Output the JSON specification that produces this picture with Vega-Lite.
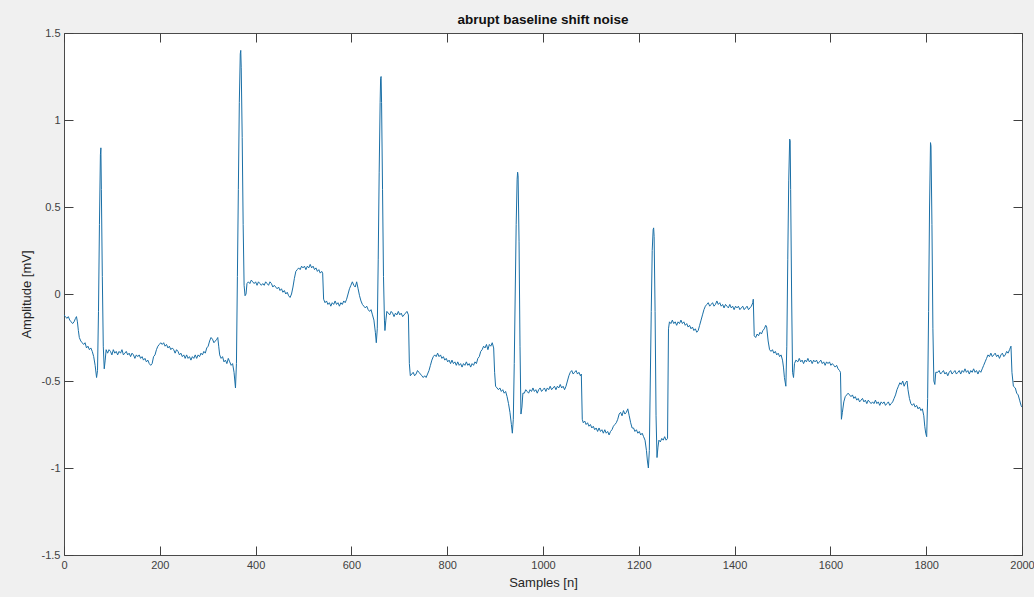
{
  "$schema": "https://vega.github.io/schema/vega-lite/v6.json",
  "width": 958,
  "height": 522,
  "autosize": {"type": "none"},
  "padding": {"left": 64, "top": 33, "right": 12, "bottom": 42},
  "background": "#f0f0f0",
  "config": {
    "font": "Liberation Sans",
    "view": {"fill": "white", "stroke": "#4a4a4a", "strokeWidth": 1},
    "axis": {"grid": false, "domain": false, "tickColor": "#404040", "tickSize": -9, "labelFont": "Liberation Sans", "labelFontSize": 11, "labelColor": "#404040", "titleFont": "Liberation Sans", "titleFontSize": 13, "titleFontWeight": "normal", "titleColor": "#262626"},
    "title": {"font": "Liberation Sans", "fontSize": 13.5, "fontWeight": "bold", "color": "#111111"}
  },
  "title": {"text": "abrupt baseline shift noise", "anchor": "middle", "offset": 1},
  "data": {"values": [
    {"n":0,"v":-0.12},{"n":3,"v":-0.13},{"n":6,"v":-0.14},{"n":9,"v":-0.13},{"n":12,"v":-0.15},{"n":15,"v":-0.16},{"n":18,"v":-0.17},{"n":21,"v":-0.16},{"n":24,"v":-0.14},{"n":26,"v":-0.13},{"n":28,"v":-0.16},{"n":30,"v":-0.21},{"n":32,"v":-0.25},{"n":35,"v":-0.27},{"n":38,"v":-0.28},{"n":41,"v":-0.29},{"n":44,"v":-0.28},{"n":47,"v":-0.31},{"n":50,"v":-0.30},{"n":53,"v":-0.32},{"n":56,"v":-0.31},{"n":59,"v":-0.33},{"n":62,"v":-0.36},{"n":65,"v":-0.41},{"n":68,"v":-0.48},{"n":70,"v":-0.44},{"n":72,"v":-0.10},{"n":74,"v":0.40},{"n":76,"v":0.80},{"n":77,"v":0.84},{"n":78,"v":0.60},{"n":80,"v":0.10},{"n":82,"v":-0.30},{"n":84,"v":-0.43},{"n":86,"v":-0.38},{"n":88,"v":-0.32},
    {"n":91,"v":-0.34},{"n":94,"v":-0.32},{"n":97,"v":-0.33},{"n":100,"v":-0.35},{"n":103,"v":-0.32},{"n":106,"v":-0.34},{"n":109,"v":-0.33},{"n":112,"v":-0.35},{"n":115,"v":-0.33},{"n":118,"v":-0.34},{"n":121,"v":-0.32},{"n":124,"v":-0.35},{"n":127,"v":-0.34},{"n":130,"v":-0.33},{"n":133,"v":-0.35},{"n":136,"v":-0.34},{"n":139,"v":-0.36},{"n":142,"v":-0.34},{"n":145,"v":-0.35},{"n":148,"v":-0.37},{"n":151,"v":-0.35},{"n":154,"v":-0.36},{"n":157,"v":-0.35},{"n":160,"v":-0.37},{"n":163,"v":-0.36},{"n":166,"v":-0.38},{"n":169,"v":-0.37},{"n":172,"v":-0.39},{"n":175,"v":-0.38},{"n":178,"v":-0.40},{"n":181,"v":-0.41},{"n":184,"v":-0.40},{"n":187,"v":-0.36},{"n":190,"v":-0.35},{"n":193,"v":-0.32},{"n":196,"v":-0.30},{"n":199,"v":-0.29},{"n":202,"v":-0.28},{"n":205,"v":-0.29},{"n":208,"v":-0.28},{"n":211,"v":-0.30},{"n":214,"v":-0.29},{"n":217,"v":-0.31},{"n":220,"v":-0.30},{"n":223,"v":-0.32},{"n":226,"v":-0.31},{"n":229,"v":-0.32},{"n":232,"v":-0.34},{"n":235,"v":-0.32},{"n":238,"v":-0.33},{"n":241,"v":-0.35},{"n":244,"v":-0.34},{"n":247,"v":-0.36},{"n":250,"v":-0.35},{"n":253,"v":-0.37},{"n":256,"v":-0.35},{"n":259,"v":-0.37},{"n":262,"v":-0.36},{"n":265,"v":-0.38},{"n":268,"v":-0.36},{"n":271,"v":-0.37},{"n":274,"v":-0.35},{"n":277,"v":-0.37},{"n":280,"v":-0.35},{"n":283,"v":-0.36},{"n":286,"v":-0.34},{"n":289,"v":-0.35},{"n":292,"v":-0.33},{"n":295,"v":-0.34},{"n":298,"v":-0.31},{"n":301,"v":-0.30},{"n":304,"v":-0.27},{"n":307,"v":-0.25},{"n":310,"v":-0.26},{"n":313,"v":-0.28},{"n":316,"v":-0.27},{"n":319,"v":-0.26},{"n":321,"v":-0.25},{"n":323,"v":-0.30},{"n":325,"v":-0.35},{"n":328,"v":-0.37},{"n":331,"v":-0.36},{"n":334,"v":-0.39},{"n":337,"v":-0.38},{"n":340,"v":-0.40},{"n":343,"v":-0.37},{"n":346,"v":-0.39},{"n":349,"v":-0.41},{"n":352,"v":-0.40},{"n":355,"v":-0.45},{"n":358,"v":-0.54},{"n":360,"v":-0.40},{"n":362,"v":0.10},{"n":364,"v":0.60},{"n":366,"v":1.10},{"n":368,"v":1.38},{"n":369,"v":1.40},{"n":370,"v":1.30},{"n":372,"v":0.90},{"n":374,"v":0.40},{"n":376,"v":0.05},{"n":378,"v":-0.01},{"n":380,"v":0.00},{"n":382,"v":0.06},
    {"n":385,"v":0.07},{"n":388,"v":0.06},{"n":391,"v":0.08},{"n":394,"v":0.07},{"n":397,"v":0.06},{"n":400,"v":0.07},{"n":403,"v":0.05},{"n":406,"v":0.07},{"n":409,"v":0.06},{"n":412,"v":0.05},{"n":415,"v":0.06},{"n":418,"v":0.05},{"n":421,"v":0.07},{"n":424,"v":0.06},{"n":427,"v":0.05},{"n":430,"v":0.07},{"n":433,"v":0.06},{"n":436,"v":0.04},{"n":439,"v":0.05},{"n":442,"v":0.04},{"n":445,"v":0.03},{"n":448,"v":0.04},{"n":451,"v":0.02},{"n":454,"v":0.03},{"n":457,"v":0.01},{"n":460,"v":0.02},{"n":463,"v":0.00},{"n":466,"v":0.01},{"n":469,"v":-0.01},{"n":472,"v":-0.02},{"n":475,"v":0.00},{"n":478,"v":0.04},{"n":481,"v":0.09},{"n":484,"v":0.13},{"n":487,"v":0.14},{"n":490,"v":0.15},{"n":493,"v":0.14},{"n":496,"v":0.16},{"n":499,"v":0.15},{"n":502,"v":0.16},{"n":505,"v":0.14},{"n":508,"v":0.16},{"n":511,"v":0.15},{"n":514,"v":0.17},{"n":517,"v":0.15},{"n":520,"v":0.16},{"n":523,"v":0.14},{"n":526,"v":0.15},{"n":529,"v":0.13},{"n":532,"v":0.14},{"n":535,"v":0.12},{"n":538,"v":0.13},{"n":540,"v":0.12},{"n":542,"v":-0.03},{"n":545,"v":-0.05},{"n":548,"v":-0.04},{"n":551,"v":-0.06},{"n":554,"v":-0.05},{"n":557,"v":-0.07},{"n":560,"v":-0.05},{"n":563,"v":-0.06},{"n":566,"v":-0.04},{"n":569,"v":-0.06},{"n":572,"v":-0.05},{"n":575,"v":-0.07},{"n":578,"v":-0.05},{"n":581,"v":-0.06},{"n":584,"v":-0.04},{"n":587,"v":-0.05},{"n":590,"v":-0.03},{"n":593,"v":0.00},{"n":596,"v":0.03},{"n":599,"v":0.05},{"n":602,"v":0.07},{"n":605,"v":0.05},{"n":608,"v":0.04},{"n":611,"v":0.07},{"n":614,"v":0.03},{"n":617,"v":-0.01},{"n":620,"v":-0.04},{"n":623,"v":-0.06},{"n":626,"v":-0.07},{"n":629,"v":-0.08},{"n":632,"v":-0.07},{"n":635,"v":-0.09},{"n":638,"v":-0.10},{"n":641,"v":-0.09},{"n":644,"v":-0.12},{"n":647,"v":-0.15},{"n":650,"v":-0.22},{"n":652,"v":-0.28},{"n":654,"v":-0.20},{"n":656,"v":0.20},{"n":658,"v":0.70},{"n":660,"v":1.10},{"n":661,"v":1.24},{"n":662,"v":1.25},{"n":663,"v":1.10},{"n":665,"v":0.60},{"n":667,"v":0.10},{"n":669,"v":-0.15},{"n":670,"v":-0.21},{"n":672,"v":-0.15},{"n":674,"v":-0.10},
    {"n":677,"v":-0.11},{"n":680,"v":-0.12},{"n":683,"v":-0.10},{"n":686,"v":-0.11},{"n":689,"v":-0.13},{"n":692,"v":-0.11},{"n":695,"v":-0.12},{"n":698,"v":-0.10},{"n":701,"v":-0.12},{"n":704,"v":-0.11},{"n":707,"v":-0.13},{"n":710,"v":-0.12},{"n":713,"v":-0.11},{"n":716,"v":-0.10},{"n":719,"v":-0.12},{"n":721,"v":-0.40},{"n":723,"v":-0.47},{"n":726,"v":-0.46},{"n":729,"v":-0.45},{"n":732,"v":-0.47},{"n":735,"v":-0.46},{"n":738,"v":-0.44},{"n":741,"v":-0.45},{"n":744,"v":-0.46},{"n":747,"v":-0.47},{"n":750,"v":-0.48},{"n":753,"v":-0.47},{"n":756,"v":-0.48},{"n":759,"v":-0.46},{"n":762,"v":-0.44},{"n":765,"v":-0.41},{"n":768,"v":-0.38},{"n":771,"v":-0.36},{"n":774,"v":-0.35},{"n":777,"v":-0.36},{"n":780,"v":-0.34},{"n":783,"v":-0.36},{"n":786,"v":-0.35},{"n":789,"v":-0.37},{"n":792,"v":-0.36},{"n":795,"v":-0.38},{"n":798,"v":-0.37},{"n":801,"v":-0.39},{"n":804,"v":-0.38},{"n":807,"v":-0.40},{"n":810,"v":-0.38},{"n":813,"v":-0.40},{"n":816,"v":-0.39},{"n":819,"v":-0.41},{"n":822,"v":-0.39},{"n":825,"v":-0.41},{"n":828,"v":-0.40},{"n":831,"v":-0.42},{"n":834,"v":-0.40},{"n":837,"v":-0.41},{"n":840,"v":-0.39},{"n":843,"v":-0.41},{"n":846,"v":-0.40},{"n":849,"v":-0.42},{"n":852,"v":-0.40},{"n":855,"v":-0.41},{"n":858,"v":-0.39},{"n":861,"v":-0.40},{"n":864,"v":-0.37},{"n":867,"v":-0.36},{"n":870,"v":-0.33},{"n":873,"v":-0.32},{"n":876,"v":-0.30},{"n":879,"v":-0.31},{"n":882,"v":-0.29},{"n":885,"v":-0.32},{"n":888,"v":-0.29},{"n":891,"v":-0.30},{"n":894,"v":-0.28},{"n":897,"v":-0.31},{"n":899,"v":-0.45},{"n":901,"v":-0.53},{"n":904,"v":-0.54},{"n":907,"v":-0.55},{"n":910,"v":-0.54},{"n":913,"v":-0.56},{"n":916,"v":-0.55},{"n":919,"v":-0.57},{"n":922,"v":-0.56},{"n":925,"v":-0.59},{"n":928,"v":-0.63},{"n":931,"v":-0.68},{"n":934,"v":-0.75},{"n":936,"v":-0.80},{"n":938,"v":-0.72},{"n":940,"v":-0.40},{"n":942,"v":0.00},{"n":944,"v":0.40},{"n":946,"v":0.66},{"n":947,"v":0.70},{"n":948,"v":0.68},{"n":950,"v":0.30},{"n":952,"v":-0.30},{"n":954,"v":-0.69},{"n":956,"v":-0.65},{"n":958,"v":-0.57},
    {"n":961,"v":-0.57},{"n":964,"v":-0.55},{"n":967,"v":-0.56},{"n":970,"v":-0.57},{"n":973,"v":-0.55},{"n":976,"v":-0.56},{"n":979,"v":-0.54},{"n":982,"v":-0.56},{"n":985,"v":-0.55},{"n":988,"v":-0.57},{"n":991,"v":-0.55},{"n":994,"v":-0.54},{"n":997,"v":-0.56},{"n":1000,"v":-0.55},{"n":1003,"v":-0.54},{"n":1006,"v":-0.56},{"n":1009,"v":-0.54},{"n":1012,"v":-0.55},{"n":1015,"v":-0.53},{"n":1018,"v":-0.55},{"n":1021,"v":-0.54},{"n":1024,"v":-0.53},{"n":1027,"v":-0.55},{"n":1030,"v":-0.53},{"n":1033,"v":-0.54},{"n":1036,"v":-0.52},{"n":1039,"v":-0.54},{"n":1042,"v":-0.53},{"n":1045,"v":-0.55},{"n":1048,"v":-0.53},{"n":1051,"v":-0.50},{"n":1054,"v":-0.47},{"n":1057,"v":-0.45},{"n":1060,"v":-0.44},{"n":1063,"v":-0.46},{"n":1066,"v":-0.45},{"n":1069,"v":-0.44},{"n":1072,"v":-0.46},{"n":1075,"v":-0.45},{"n":1078,"v":-0.47},{"n":1080,"v":-0.46},{"n":1082,"v":-0.72},{"n":1084,"v":-0.74},{"n":1087,"v":-0.73},{"n":1090,"v":-0.75},{"n":1093,"v":-0.74},{"n":1096,"v":-0.76},{"n":1099,"v":-0.75},{"n":1102,"v":-0.77},{"n":1105,"v":-0.76},{"n":1108,"v":-0.78},{"n":1111,"v":-0.77},{"n":1114,"v":-0.79},{"n":1117,"v":-0.77},{"n":1120,"v":-0.79},{"n":1123,"v":-0.78},{"n":1126,"v":-0.80},{"n":1129,"v":-0.78},{"n":1132,"v":-0.80},{"n":1135,"v":-0.79},{"n":1138,"v":-0.81},{"n":1141,"v":-0.79},{"n":1144,"v":-0.78},{"n":1147,"v":-0.76},{"n":1150,"v":-0.75},{"n":1153,"v":-0.74},{"n":1156,"v":-0.72},{"n":1159,"v":-0.69},{"n":1162,"v":-0.68},{"n":1165,"v":-0.70},{"n":1168,"v":-0.67},{"n":1171,"v":-0.69},{"n":1174,"v":-0.68},{"n":1177,"v":-0.66},{"n":1180,"v":-0.70},{"n":1183,"v":-0.74},{"n":1186,"v":-0.77},{"n":1189,"v":-0.77},{"n":1192,"v":-0.79},{"n":1195,"v":-0.78},{"n":1198,"v":-0.80},{"n":1201,"v":-0.79},{"n":1204,"v":-0.81},{"n":1207,"v":-0.80},{"n":1210,"v":-0.82},{"n":1213,"v":-0.84},{"n":1216,"v":-0.90},{"n":1218,"v":-0.96},{"n":1220,"v":-1.00},{"n":1222,"v":-0.90},{"n":1224,"v":-0.50},{"n":1226,"v":-0.10},{"n":1228,"v":0.25},{"n":1230,"v":0.37},{"n":1231,"v":0.38},{"n":1232,"v":0.33},{"n":1234,"v":-0.10},{"n":1236,"v":-0.70},{"n":1238,"v":-0.94},{"n":1240,"v":-0.88},{"n":1242,"v":-0.84},{"n":1245,"v":-0.85},{"n":1248,"v":-0.83},{"n":1251,"v":-0.84},{"n":1254,"v":-0.82},{"n":1257,"v":-0.84},{"n":1260,"v":-0.83},{"n":1262,"v":-0.20},{"n":1264,"v":-0.16},{"n":1267,"v":-0.17},
    {"n":1270,"v":-0.15},{"n":1273,"v":-0.17},{"n":1276,"v":-0.16},{"n":1279,"v":-0.18},{"n":1282,"v":-0.16},{"n":1285,"v":-0.17},{"n":1288,"v":-0.15},{"n":1291,"v":-0.17},{"n":1294,"v":-0.16},{"n":1297,"v":-0.18},{"n":1300,"v":-0.17},{"n":1303,"v":-0.19},{"n":1306,"v":-0.18},{"n":1309,"v":-0.20},{"n":1312,"v":-0.19},{"n":1315,"v":-0.21},{"n":1318,"v":-0.20},{"n":1321,"v":-0.22},{"n":1324,"v":-0.21},{"n":1327,"v":-0.18},{"n":1330,"v":-0.15},{"n":1333,"v":-0.12},{"n":1336,"v":-0.09},{"n":1339,"v":-0.07},{"n":1342,"v":-0.06},{"n":1345,"v":-0.05},{"n":1348,"v":-0.07},{"n":1351,"v":-0.06},{"n":1354,"v":-0.05},{"n":1357,"v":-0.07},{"n":1360,"v":-0.06},{"n":1363,"v":-0.04},{"n":1366,"v":-0.06},{"n":1369,"v":-0.05},{"n":1372,"v":-0.07},{"n":1375,"v":-0.06},{"n":1378,"v":-0.08},{"n":1381,"v":-0.06},{"n":1384,"v":-0.07},{"n":1387,"v":-0.08},{"n":1390,"v":-0.06},{"n":1393,"v":-0.08},{"n":1396,"v":-0.07},{"n":1399,"v":-0.09},{"n":1402,"v":-0.07},{"n":1405,"v":-0.08},{"n":1408,"v":-0.07},{"n":1411,"v":-0.09},{"n":1414,"v":-0.08},{"n":1417,"v":-0.07},{"n":1420,"v":-0.09},{"n":1423,"v":-0.08},{"n":1426,"v":-0.07},{"n":1429,"v":-0.09},{"n":1432,"v":-0.08},{"n":1435,"v":-0.07},{"n":1438,"v":-0.05},{"n":1439,"v":-0.03},{"n":1441,"v":-0.24},{"n":1444,"v":-0.25},{"n":1447,"v":-0.23},{"n":1450,"v":-0.24},{"n":1453,"v":-0.22},{"n":1456,"v":-0.23},{"n":1459,"v":-0.21},{"n":1462,"v":-0.20},{"n":1465,"v":-0.18},{"n":1467,"v":-0.19},{"n":1470,"v":-0.27},{"n":1473,"v":-0.32},{"n":1476,"v":-0.33},{"n":1479,"v":-0.32},{"n":1482,"v":-0.34},{"n":1485,"v":-0.33},{"n":1488,"v":-0.35},{"n":1491,"v":-0.34},{"n":1494,"v":-0.36},{"n":1497,"v":-0.35},{"n":1500,"v":-0.38},{"n":1502,"v":-0.42},{"n":1504,"v":-0.48},{"n":1507,"v":-0.53},{"n":1509,"v":-0.30},{"n":1511,"v":0.20},{"n":1513,"v":0.65},{"n":1515,"v":0.89},{"n":1516,"v":0.88},{"n":1517,"v":0.60},{"n":1519,"v":0.00},{"n":1521,"v":-0.45},{"n":1523,"v":-0.48},{"n":1525,"v":-0.40},{"n":1528,"v":-0.38},
    {"n":1532,"v":-0.39},{"n":1535,"v":-0.37},{"n":1538,"v":-0.39},{"n":1541,"v":-0.38},{"n":1544,"v":-0.40},{"n":1547,"v":-0.38},{"n":1550,"v":-0.39},{"n":1553,"v":-0.37},{"n":1556,"v":-0.39},{"n":1559,"v":-0.38},{"n":1562,"v":-0.40},{"n":1565,"v":-0.38},{"n":1568,"v":-0.39},{"n":1571,"v":-0.38},{"n":1574,"v":-0.40},{"n":1577,"v":-0.39},{"n":1580,"v":-0.38},{"n":1583,"v":-0.40},{"n":1586,"v":-0.39},{"n":1589,"v":-0.41},{"n":1592,"v":-0.39},{"n":1595,"v":-0.40},{"n":1598,"v":-0.39},{"n":1601,"v":-0.41},{"n":1604,"v":-0.40},{"n":1607,"v":-0.41},{"n":1610,"v":-0.42},{"n":1613,"v":-0.41},{"n":1616,"v":-0.43},{"n":1619,"v":-0.44},{"n":1621,"v":-0.45},{"n":1623,"v":-0.72},{"n":1625,"v":-0.68},{"n":1628,"v":-0.62},{"n":1631,"v":-0.59},{"n":1634,"v":-0.58},{"n":1637,"v":-0.57},{"n":1640,"v":-0.58},{"n":1643,"v":-0.59},{"n":1646,"v":-0.58},{"n":1649,"v":-0.60},{"n":1652,"v":-0.59},{"n":1655,"v":-0.61},{"n":1658,"v":-0.60},{"n":1661,"v":-0.62},{"n":1664,"v":-0.61},{"n":1667,"v":-0.60},{"n":1670,"v":-0.62},{"n":1673,"v":-0.61},{"n":1676,"v":-0.63},{"n":1679,"v":-0.61},{"n":1682,"v":-0.62},{"n":1685,"v":-0.63},{"n":1688,"v":-0.62},{"n":1691,"v":-0.63},{"n":1694,"v":-0.61},{"n":1697,"v":-0.63},{"n":1700,"v":-0.62},{"n":1703,"v":-0.64},{"n":1706,"v":-0.62},{"n":1709,"v":-0.63},{"n":1712,"v":-0.62},{"n":1715,"v":-0.64},{"n":1718,"v":-0.63},{"n":1721,"v":-0.62},{"n":1724,"v":-0.64},{"n":1727,"v":-0.63},{"n":1730,"v":-0.62},{"n":1733,"v":-0.60},{"n":1736,"v":-0.58},{"n":1739,"v":-0.55},{"n":1742,"v":-0.53},{"n":1745,"v":-0.51},{"n":1748,"v":-0.52},{"n":1751,"v":-0.50},{"n":1754,"v":-0.53},{"n":1757,"v":-0.51},{"n":1760,"v":-0.50},{"n":1762,"v":-0.55},{"n":1765,"v":-0.60},{"n":1768,"v":-0.63},{"n":1771,"v":-0.64},{"n":1774,"v":-0.63},{"n":1777,"v":-0.65},{"n":1780,"v":-0.64},{"n":1783,"v":-0.66},{"n":1786,"v":-0.65},{"n":1789,"v":-0.67},{"n":1792,"v":-0.66},{"n":1795,"v":-0.70},{"n":1797,"v":-0.76},{"n":1799,"v":-0.80},{"n":1801,"v":-0.82},{"n":1803,"v":-0.60},{"n":1805,"v":-0.10},{"n":1807,"v":0.50},{"n":1809,"v":0.87},{"n":1810,"v":0.85},{"n":1812,"v":0.40},{"n":1814,"v":-0.20},{"n":1816,"v":-0.50},{"n":1818,"v":-0.52},{"n":1820,"v":-0.45},
    {"n":1824,"v":-0.45},{"n":1827,"v":-0.44},{"n":1830,"v":-0.46},{"n":1833,"v":-0.45},{"n":1836,"v":-0.44},{"n":1839,"v":-0.46},{"n":1842,"v":-0.45},{"n":1845,"v":-0.47},{"n":1848,"v":-0.45},{"n":1851,"v":-0.44},{"n":1854,"v":-0.46},{"n":1857,"v":-0.45},{"n":1860,"v":-0.44},{"n":1863,"v":-0.46},{"n":1866,"v":-0.45},{"n":1869,"v":-0.44},{"n":1872,"v":-0.46},{"n":1875,"v":-0.44},{"n":1878,"v":-0.45},{"n":1881,"v":-0.43},{"n":1884,"v":-0.45},{"n":1887,"v":-0.44},{"n":1890,"v":-0.46},{"n":1893,"v":-0.44},{"n":1896,"v":-0.45},{"n":1899,"v":-0.43},{"n":1902,"v":-0.45},{"n":1905,"v":-0.44},{"n":1908,"v":-0.46},{"n":1911,"v":-0.44},{"n":1914,"v":-0.45},{"n":1917,"v":-0.43},{"n":1920,"v":-0.41},{"n":1923,"v":-0.39},{"n":1926,"v":-0.37},{"n":1929,"v":-0.35},{"n":1932,"v":-0.36},{"n":1935,"v":-0.34},{"n":1938,"v":-0.36},{"n":1941,"v":-0.35},{"n":1944,"v":-0.34},{"n":1947,"v":-0.36},{"n":1950,"v":-0.35},{"n":1953,"v":-0.37},{"n":1956,"v":-0.35},{"n":1959,"v":-0.34},{"n":1962,"v":-0.36},{"n":1965,"v":-0.35},{"n":1968,"v":-0.33},{"n":1971,"v":-0.34},{"n":1974,"v":-0.32},{"n":1977,"v":-0.30},{"n":1979,"v":-0.45},{"n":1982,"v":-0.53},{"n":1986,"v":-0.54},{"n":1989,"v":-0.57},{"n":1992,"v":-0.58},{"n":1995,"v":-0.61},{"n":1998,"v":-0.64},{"n":2000,"v":-0.65}
  ]},
  "layer": [
    {
      "mark": {"type": "line", "color": "#1a6fa6", "strokeWidth": 1, "clip": true},
      "encoding": {
        "x": {"field": "n", "type": "quantitative", "scale": {"domain": [0, 2000], "nice": false, "zero": false},
              "axis": {"orient": "bottom", "values": [0,200,400,600,800,1000,1200,1400,1600,1800,2000], "format": "d", "title": "Samples [n]", "labelPadding": 13, "titlePadding": 6, "labelFlush": false}},
        "y": {"field": "v", "type": "quantitative", "scale": {"domain": [-1.5, 1.5], "nice": false, "zero": false},
              "axis": {"orient": "left", "values": [-1.5,-1,-0.5,0,0.5,1,1.5], "labelExpr": "toString(datum.value)", "title": "Amplitude [mV]", "labelPadding": 13, "titlePadding": 8}}
      }
    },
    {
      "mark": {"type": "line", "strokeOpacity": 0},
      "encoding": {
        "x": {"field": "n", "type": "quantitative", "axis": {"orient": "top", "values": [0,200,400,600,800,1000,1200,1400,1600,1800,2000], "labels": false, "title": null}},
        "y": {"field": "v", "type": "quantitative", "axis": {"orient": "right", "values": [-1.5,-1,-0.5,0,0.5,1,1.5], "labels": false, "title": null}}
      }
    }
  ],
  "resolve": {"axis": {"x": "independent", "y": "independent"}}
}
